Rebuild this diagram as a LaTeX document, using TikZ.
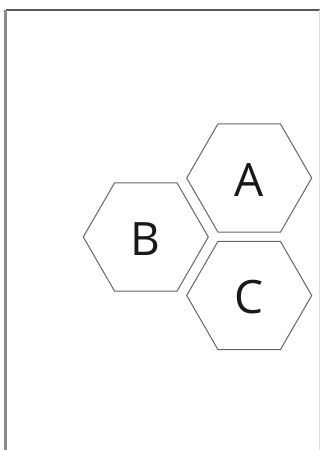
\documentclass[tikz,border=0pt]{standalone}
\usepackage{fontspec}
\setmainfont{Open Sans}
\tikzset{
  hexcell/.style={draw=black!60, line width=1pt, fill=white},
  hexlabel/.style={font=\fontsize{46}{50}\selectfont, text=black!90, inner sep=0pt},
  framepart/.style={draw=black!65, line width=2pt},
}
\begin{document}
\begin{tikzpicture}[x=1pt,y=-1pt]
\useasboundingbox (0,0) rectangle (320,450);
% frame
\coordinate (tl) at (5.5,9.5);
\coordinate (tr) at (320,9.5);
\coordinate (bl) at (5.5,450);
\coordinate (rt) at (319.2,9.5);
\coordinate (rb) at (319.2,450);
\draw[framepart] (tr) -- (tl);
\draw[draw=black!45, line width=2.2pt] (tl) -- (bl);
\draw[draw=black!12, line width=0.8pt] (rt) -- (rb);
% hexagons
\def\R{62.5}
\foreach \n/\cx/\cy in {A/249.2/178, B/145.8/237, C/249.2/295.5}{
  \draw[hexcell] (\cx+\R,\cy) -- ++(-\R/2,{\R*0.866}) -- ++(-\R,0) -- ++(-\R/2,{-\R*0.866}) -- ++(\R/2,{-\R*0.866}) -- ++(\R,0) -- cycle;
}
\node[hexlabel] (A) at (249.2,180) {A};
\node[hexlabel] (B) at (145.8,239) {B};
\node[hexlabel] (C) at (249.2,297.5) {C};
\end{tikzpicture}
\end{document}
